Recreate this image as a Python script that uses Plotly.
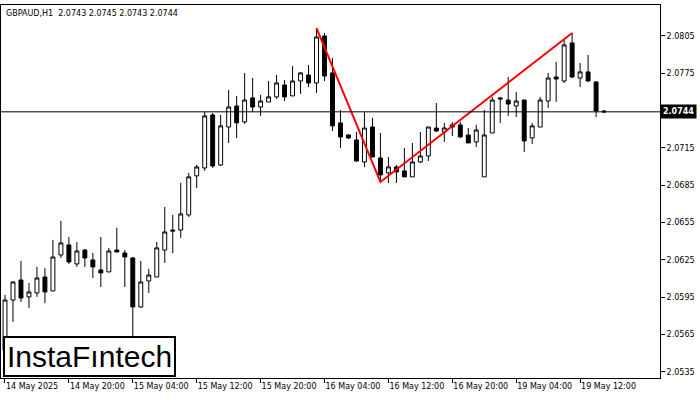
import plotly.graph_objects as go

open_ = [2.05525,2.05927,2.06088,2.05952,2.05984,2.06112,2.06000,2.06289,2.06370,2.06217,
         2.06329,2.06249,2.06169,2.06153,2.06329,2.06305,2.06265,2.05871,2.06080,2.06112,
         2.06329,2.06490,2.06490,2.06611,2.06925,2.06989,2.07415,2.07013,2.07318,2.07487,
         2.07359,2.07552,2.07479,2.07519,2.07560,2.07656,2.07568,2.07688,2.07736,2.07672,
         2.08050,2.07753,2.07351,2.07254,2.07214,2.07037,2.07318,2.07069,2.06949,2.06997,
         2.06965,2.06917,2.07037,2.07085,2.07310,2.07278,2.07335,2.07335,2.07254,2.07198,
         2.06917,2.07270,2.07552,2.07535,2.07487,2.07535,2.07230,2.07318,2.07527,2.07720,
         2.07688,2.07994,2.07712,2.07761,2.07680,2.07447]
close = [2.05927,2.06072,2.05943,2.05992,2.06104,2.05992,2.06273,2.06386,2.06233,2.06321,
         2.06265,2.06193,2.06145,2.06321,2.06313,2.06273,2.05871,2.06072,2.06128,2.06346,
         2.06474,2.06482,2.06619,2.06917,2.06997,2.07407,2.07005,2.07327,2.07479,2.07351,
         2.07535,2.07479,2.07527,2.07560,2.07672,2.07560,2.07688,2.07753,2.07672,2.08042,
         2.07728,2.07327,2.07238,2.07230,2.07045,2.07310,2.07077,2.06933,2.06997,2.06957,
         2.06917,2.07037,2.07085,2.07318,2.07286,2.07310,2.07318,2.07238,2.07190,2.07294,
         2.07254,2.07535,2.07544,2.07503,2.07527,2.07206,2.07327,2.07535,2.07712,2.07704,
         2.07978,2.07720,2.07761,2.07688,2.07447,2.07440]
high = [2.05968,2.06080,2.06241,2.06064,2.06193,2.06185,2.06410,2.06563,2.06434,2.06394,
        2.06338,2.06305,2.06434,2.06346,2.06508,2.06329,2.06273,2.06241,2.06177,2.06394,
        2.06675,2.06611,2.06868,2.06949,2.07013,2.07439,2.07431,2.07415,2.07616,2.07568,
        2.07753,2.07712,2.07576,2.07688,2.07736,2.07696,2.07809,2.07761,2.07817,2.08114,
        2.08074,2.07873,2.07455,2.07262,2.07278,2.07439,2.07391,2.07270,2.07077,2.07013,
        2.07150,2.07190,2.07278,2.07318,2.07511,2.07351,2.07359,2.07359,2.07310,2.07335,
        2.07455,2.07560,2.07560,2.07720,2.07600,2.07535,2.07351,2.07560,2.07753,2.07841,
        2.08018,2.08074,2.07833,2.07897,2.07688,2.07455]
low = [2.05324,2.05751,2.05911,2.05863,2.05952,2.05903,2.06000,2.06265,2.06217,2.06193,
       2.06193,2.06104,2.06032,2.06153,2.06313,2.06032,2.05622,2.05863,2.05984,2.06112,
       2.06225,2.06305,2.06426,2.06595,2.06828,2.06965,2.06989,2.07005,2.07190,2.07230,
       2.07343,2.07439,2.07407,2.07519,2.07544,2.07527,2.07568,2.07584,2.07640,2.07592,
       2.07688,2.07286,2.07150,2.07222,2.07037,2.06997,2.07077,2.06876,2.06868,2.06868,
       2.06917,2.06917,2.07029,2.07045,2.07278,2.07198,2.07246,2.07230,2.07190,2.07158,
       2.06917,2.07270,2.07351,2.07407,2.07399,2.07117,2.07182,2.07318,2.07471,2.07519,
       2.07672,2.07712,2.07640,2.07680,2.07399,2.07431]

x = list(range(len(open_)))
tick_idx = [0, 8, 16, 24, 32, 40, 48, 56, 64, 72]
tick_text = ["14 May 2025", "14 May 20:00", "15 May 04:00", "15 May 12:00", "15 May 20:00",
             "16 May 04:00", "16 May 12:00", "16 May 20:00", "19 May 04:00", "19 May 12:00"]
y_ticks = [2.0805, 2.0775, 2.0715, 2.0685, 2.0655, 2.0625, 2.0595, 2.0565, 2.0535]
pattern_idx = [39, 47, 71]
pattern_px = [high[39], low[47], high[71]]
last_price = 2.0744

fig = go.Figure()
fig.add_trace(go.Candlestick(
    x=x, open=open_, high=high, low=low, close=close,
    increasing=dict(line=dict(color="black", width=1), fillcolor="white"),
    decreasing=dict(line=dict(color="black", width=1), fillcolor="black"),
    whiskerwidth=0, showlegend=False, hoverinfo="skip"))
fig.add_trace(go.Scatter(x=pattern_idx, y=pattern_px, mode="lines",
                         line=dict(color="#ff0000", width=2), showlegend=False, hoverinfo="skip"))
fig.add_hline(y=last_price, line=dict(color="black", width=1))

fig.update_layout(
    width=700, height=400, margin=dict(l=1, r=40, t=5, b=22, autoexpand=False),
    paper_bgcolor="white", plot_bgcolor="white",
    font=dict(family="DejaVu Sans", size=8, color="black"),
    xaxis=dict(range=[-0.5, 82], rangeslider=dict(visible=False), tickvals=tick_idx,
               ticktext=tick_text, tickangle=0, ticks="outside", ticklen=4, tickcolor="black",
               ticklabelposition="outside right", showgrid=False, zeroline=False,
               showline=True, linecolor="black", mirror=True, automargin=False),
    yaxis=dict(range=[2.05300, 2.08299], side="right", tickvals=y_ticks,
               ticktext=[f"{v:.4f}" for v in y_ticks], ticks="outside", ticklen=4,
               tickcolor="black", showgrid=False, zeroline=False, automargin=False,
               ticklabeloverflow="allow",
               showline=True, linecolor="black", mirror=True),
)
fig.add_annotation(xref="paper", yref="y", x=1.0, y=last_price, text="<b>2.0744</b>",
                   showarrow=False, xanchor="left", bgcolor="black",
                   font=dict(color="white", size=8), borderpad=2)
fig.add_annotation(xref="paper", yref="paper", x=0.005, y=0.995, text="GBPAUD,H1  2.0743 2.0745 2.0743 2.0744",
                   showarrow=False, xanchor="left", yanchor="top", font=dict(size=8))
fig.add_annotation(xref="paper", yref="paper", x=0.003, y=0.002, text="InstaFıntech",
                   showarrow=False, xanchor="left", yanchor="bottom",
                   font=dict(size=30, family="Liberation Sans", color="black"),
                   bgcolor="white", bordercolor="black", borderwidth=2, borderpad=2)
html = fig.to_html(full_html=True, config={"displayModeBar": False})
html = html.replace("<head>", "<head><style>html,body{margin:0;padding:0;overflow:hidden;}</style>", 1)
with open("out.html", "w", encoding="utf-8") as f:
    f.write(html)
